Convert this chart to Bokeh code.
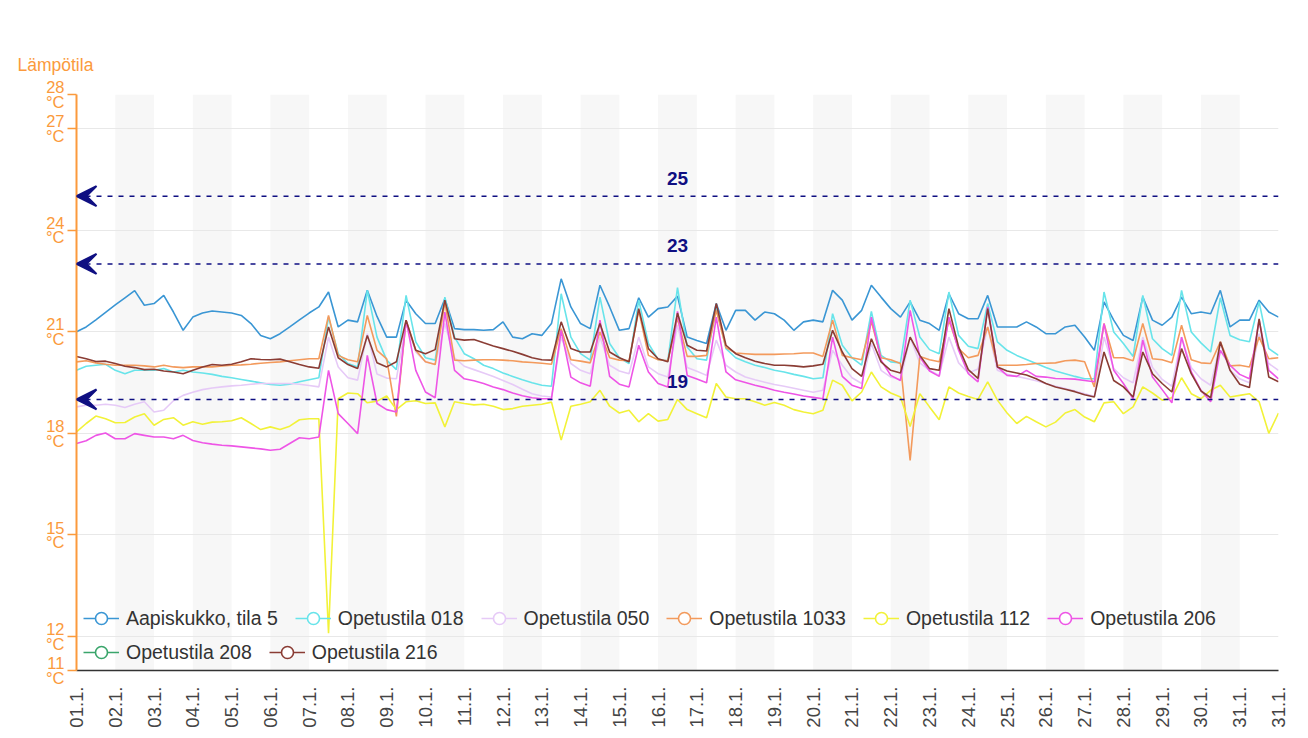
import numpy as np
from bokeh.plotting import figure
from bokeh.models import (Range1d, FixedTicker, Legend, LegendItem, Label, Arrow, VeeHead,
                          ColumnDataSource, CDSView, IndexFilter)
from bokeh.embed import file_html
from bokeh.resources import INLINE

# ---------------- data ----------------
DAY_TICKS = list(range(32))
DAY_LABELS = ["%02d.1." % d for d in range(1, 32)] + ["31.1."]
Y_TICKS = [11, 12, 15, 18, 21, 24, 27, 28]
THRESHOLDS = [25, 23, 19]
STEP_HOURS = 6  # one reading every 6 hours, 01.1. 00:00 .. 01.2. 00:00

SERIES_NAMES = ["Aapiskukko, tila 5", "Opetustila 018", "Opetustila 050", "Opetustila 1033",
                "Opetustila 112", "Opetustila 206", "Opetustila 208", "Opetustila 216"]

AAPISKUKKO = [
    21.0, 21.14, 21.35, 21.57, 21.79, 22.0, 22.21, 21.78, 21.83, 22.07, 21.58, 21.04,
    21.43, 21.55, 21.61, 21.58, 21.55, 21.48, 21.24, 20.89, 20.79, 20.94, 21.14, 21.35,
    21.55, 21.73, 22.17, 21.14, 21.34, 21.29, 22.22, 21.45, 20.84, 20.84, 21.93, 21.53,
    21.24, 21.24, 21.97, 21.09, 21.06, 21.06, 21.04, 21.06, 21.29, 20.84, 20.79, 20.94,
    20.89, 21.24, 22.56, 21.73, 21.24, 21.09, 22.37, 21.73, 21.04, 21.09, 22.0, 21.43,
    21.68, 21.73, 22.05, 20.84, 20.74, 20.65, 21.83, 21.04, 21.63, 21.63, 21.34, 21.58,
    21.53, 21.34, 21.04, 21.29, 21.34, 21.29, 22.22, 21.93, 21.34, 21.63, 22.37, 22.02,
    21.68, 21.43, 21.88, 21.34, 21.24, 21.04, 22.12, 21.53, 21.38, 21.38, 22.07, 21.14,
    21.14, 21.14, 21.29, 21.14, 20.94, 20.94, 21.14, 21.19, 20.84, 20.45, 21.88, 21.34,
    20.89, 20.74, 22.02, 21.34, 21.19, 21.43, 22.02, 21.53, 21.58, 21.53, 22.22, 21.14,
    21.34, 21.34, 21.93, 21.58, 21.43]

OPETUSTILA_018 = [
    19.86, 19.98, 20.01, 20.04, 19.86, 19.76, 19.86, 19.86, 19.86, 19.91, 19.81, 19.86,
    19.81, 19.78, 19.74, 19.68, 19.64, 19.59, 19.54, 19.49, 19.44, 19.42, 19.45, 19.52,
    19.58, 19.64, 21.43, 20.35, 20.06, 19.96, 22.22, 20.84, 20.16, 19.88, 22.07, 20.7,
    20.23, 20.16, 22.02, 20.84, 20.35, 20.2, 20.01, 19.91, 19.78, 19.68, 19.58, 19.49,
    19.42, 19.39, 22.12, 20.84, 20.35, 20.16, 22.02, 20.65, 20.23, 20.06, 21.93, 20.65,
    20.18, 20.14, 22.3, 20.55, 20.2, 20.16, 21.73, 20.5, 20.23, 20.11, 20.01, 19.94,
    19.86, 19.81, 19.74, 19.68, 19.61, 19.64, 21.53, 20.6, 20.23, 20.01, 21.6, 20.3,
    20.11, 20.08, 21.93, 20.84, 20.47, 20.35, 22.17, 20.89, 20.57, 20.5, 21.83, 20.7,
    20.45, 20.3, 20.18, 20.06, 19.94, 19.84, 19.76, 19.68, 19.61, 19.61, 22.17, 20.99,
    20.65, 20.27, 22.07, 20.79, 20.5, 20.3, 22.22, 20.99, 20.67, 20.4, 22.0, 20.89,
    20.76, 20.7, 21.88, 20.5, 20.3]

OPETUSTILA_050 = [
    18.78, 18.83, 18.83, 18.86, 18.83, 18.76, 18.86, 18.93, 18.63, 18.68, 18.96, 19.12,
    19.21, 19.29, 19.34, 19.37, 19.4, 19.42, 19.45, 19.47, 19.47, 19.47, 19.47, 19.45,
    19.41, 19.37, 20.84, 19.96, 19.64, 19.57, 20.94, 19.75, 19.63, 19.61, 21.24, 20.4,
    20.11, 20.03, 21.24, 20.23, 19.98, 19.88, 19.78, 19.68, 19.56, 19.44, 19.3, 19.17,
    19.1, 19.07, 20.84, 20.06, 19.86, 19.76, 20.84, 20.01, 19.84, 19.76, 20.84, 19.96,
    19.76, 19.66, 21.2, 19.94, 19.83, 19.71, 20.75, 20.01, 19.81, 19.66, 19.58, 19.51,
    19.44, 19.39, 19.33, 19.27, 19.21, 19.27, 20.45, 20.01, 19.64, 19.47, 20.65, 19.86,
    19.66, 19.58, 20.84, 20.08, 19.86, 19.71, 20.84, 20.08, 19.78, 19.9, 21.14, 19.86,
    19.74, 19.68, 19.62, 19.55, 19.47, 19.39, 19.32, 19.25, 19.17, 19.09, 20.84, 19.91,
    19.64, 19.49, 20.84, 19.94, 19.59, 19.39, 20.84, 19.94, 19.61, 19.42, 20.65, 19.86,
    19.61, 19.49, 20.94, 20.06, 19.86]

OPETUSTILA_1033 = [
    20.11, 20.14, 20.08, 20.04, 20.01, 20.01, 20.01, 19.99, 19.96, 20.01, 19.96, 19.94,
    19.96, 19.96, 19.96, 19.99, 20.01, 20.02, 20.04, 20.07, 20.09, 20.11, 20.14, 20.17,
    20.2, 20.2, 21.48, 20.3, 20.17, 20.11, 21.48, 20.45, 20.2, 18.5, 21.34, 20.45,
    20.11, 20.03, 21.88, 20.16, 20.14, 20.16, 20.17, 20.17, 20.16, 20.14, 20.11, 20.09,
    20.07, 20.04, 21.09, 20.17, 20.13, 20.08, 20.99, 20.23, 20.16, 20.14, 21.63, 20.3,
    20.17, 20.14, 21.4, 20.27, 20.27, 20.3, 21.63, 20.53, 20.37, 20.35, 20.33, 20.33,
    20.33, 20.34, 20.35, 20.37, 20.37, 20.27, 21.34, 20.3, 20.23, 20.17, 21.3, 20.23,
    20.17, 20.06, 17.2, 20.27, 20.17, 20.11, 21.34, 20.5, 20.23, 20.3, 21.14, 20.01,
    20.01, 20.01, 20.03, 20.06, 20.07, 20.08, 20.14, 20.16, 20.11, 19.37, 21.24, 20.23,
    20.23, 20.14, 21.24, 20.2, 20.17, 20.08, 21.19, 20.17, 20.08, 20.06, 20.7, 19.99,
    20.01, 19.96, 20.84, 20.2, 20.23]

OPETUSTILA_112 = [
    18.04, 18.29, 18.51, 18.43, 18.31, 18.32, 18.48, 18.58, 18.24, 18.41, 18.46, 18.24,
    18.34, 18.27, 18.33, 18.34, 18.37, 18.46, 18.29, 18.11, 18.19, 18.11, 18.21, 18.4,
    18.43, 18.43, 12.1, 19.02, 19.19, 19.17, 18.9, 18.95, 19.1, 18.7, 18.93, 18.96,
    18.88, 18.9, 18.19, 18.93, 18.88, 18.84, 18.86, 18.8, 18.7, 18.73, 18.8, 18.83,
    18.86, 18.92, 17.8, 18.8, 18.86, 18.93, 19.27, 18.8, 18.6, 18.68, 18.34, 18.58,
    18.36, 18.41, 19.0, 18.7, 18.58, 18.46, 19.47, 19.07, 19.02, 19.02, 18.93, 18.83,
    18.91, 18.83, 18.7, 18.63, 18.58, 18.68, 19.57, 19.42, 18.96, 19.22, 19.81, 19.37,
    19.19, 19.07, 18.2, 19.17, 18.78, 18.4, 19.37, 19.19, 19.09, 19.0, 19.52, 18.98,
    18.6, 18.29, 18.5, 18.34, 18.19, 18.33, 18.6, 18.7, 18.48, 18.34, 18.9, 18.93,
    18.58, 18.78, 19.37, 19.19, 18.98, 19.05, 19.64, 19.17, 19.02, 19.27, 19.42, 19.07,
    19.12, 19.17, 18.93, 18.0, 18.6]

OPETUSTILA_206 = [
    17.7, 17.78, 17.94, 18.01, 17.84, 17.84, 17.99, 17.94, 17.89, 17.89, 17.84, 17.94,
    17.79, 17.72, 17.68, 17.65, 17.63, 17.6, 17.57, 17.54, 17.5, 17.53, 17.7, 17.87,
    17.84, 17.89, 19.86, 18.58, 18.29, 17.99, 20.3, 18.88, 18.7, 18.63, 21.34, 19.86,
    19.22, 19.05, 21.58, 19.86, 19.61, 19.55, 19.47, 19.37, 19.29, 19.19, 19.11, 19.05,
    19.02, 19.02, 21.04, 19.66, 19.49, 19.39, 21.34, 19.68, 19.45, 19.37, 20.6, 19.81,
    19.47, 19.37, 21.6, 19.71, 19.6, 19.49, 21.43, 19.81, 19.58, 19.5, 19.42, 19.35,
    19.27, 19.21, 19.16, 19.1, 19.06, 19.02, 20.84, 19.68, 19.42, 19.32, 21.43, 20.16,
    19.71, 19.56, 21.63, 20.25, 19.84, 19.68, 21.43, 20.45, 19.76, 19.52, 21.73, 19.96,
    19.71, 19.68, 19.86, 19.68, 19.66, 19.62, 19.61, 19.6, 19.56, 19.52, 21.24, 19.86,
    19.47, 19.02, 20.75, 19.66, 19.29, 18.9, 20.84, 19.81, 19.27, 18.93, 20.45, 20.01,
    19.74, 19.61, 21.34, 19.86, 19.61]

OPETUSTILA_208 = [float("nan")]  # no readings shown for this room

OPETUSTILA_216 = [
    20.27, 20.2, 20.12, 20.13, 20.06, 19.98, 19.94, 19.88, 19.89, 19.84, 19.81, 19.76,
    19.86, 19.96, 20.03, 20.01, 20.04, 20.11, 20.2, 20.18, 20.17, 20.19, 20.11, 20.03,
    19.96, 19.92, 21.14, 20.23, 20.03, 19.91, 20.89, 20.08, 19.96, 20.11, 21.34, 20.45,
    20.35, 20.47, 21.93, 20.79, 20.75, 20.77, 20.67, 20.58, 20.5, 20.42, 20.33, 20.23,
    20.17, 20.16, 21.29, 20.5, 20.4, 20.4, 21.24, 20.4, 20.23, 20.11, 21.68, 20.5,
    20.2, 20.11, 21.55, 20.6, 20.45, 20.43, 21.83, 20.6, 20.35, 20.23, 20.13, 20.06,
    20.01, 20.01, 19.99, 19.96, 19.99, 20.04, 21.04, 20.4, 19.91, 19.68, 20.79, 20.11,
    19.86, 19.78, 20.84, 20.3, 19.91, 19.86, 21.68, 20.55, 19.88, 19.62, 21.68, 19.96,
    19.84, 19.78, 19.72, 19.61, 19.47, 19.37, 19.3, 19.23, 19.14, 19.07, 20.4, 19.56,
    19.37, 19.07, 20.4, 19.76, 19.47, 19.22, 20.5, 19.76, 19.25, 19.05, 20.7, 19.86,
    19.45, 19.35, 21.38, 19.66, 19.52]

SERIES_VALUES = [AAPISKUKKO, OPETUSTILA_018, OPETUSTILA_050, OPETUSTILA_1033,
                 OPETUSTILA_112, OPETUSTILA_206, OPETUSTILA_208, OPETUSTILA_216]

# ---------------- style ----------------
COLORS = ["#3a96d4", "#68e4ea", "#e6caf7", "#f39a5c", "#f2f238", "#ee55e6", "#3aa56b", "#8a3c34"]
ORANGE = "#fb9a3c"
NAVY = "#0f0f82"
FONT = "Liberation Sans"

p = figure(width=1300, height=734, x_range=Range1d(0, 31), y_range=Range1d(11, 28),
           output_backend="svg", toolbar_location=None,
           min_border_left=76, min_border_right=22, min_border_top=94, min_border_bottom=64)
p.outline_line_color = None
p.background_fill_color = "white"
p.border_fill_color = "white"

# title of the value axis
p.title.text = "Lämpötila"
p.title.align = "left"
p.title.offset = -59
p.title.standoff = 39
p.title.text_color = ORANGE
p.title.text_font = FONT
p.title.text_font_size = "17.5px"
p.title.text_font_style = "normal"

# alternating day bands
band_left = DAY_TICKS[1:31:2]
p.quad(left=band_left, right=[b + 1 for b in band_left], bottom=11, top=28,
       fill_color="#f7f7f7", line_color=None, level="image")

# grid
p.xgrid.visible = False
p.ygrid.ticker = FixedTicker(ticks=Y_TICKS)
p.ygrid.grid_line_color = "#e8e8e8"
p.ygrid.grid_line_width = 1

# y axis
yax = p.yaxis[0]
yax.ticker = FixedTicker(ticks=Y_TICKS)
yax.axis_line_color = ORANGE
yax.axis_line_width = 2
yax.major_tick_line_color = ORANGE
yax.major_tick_line_width = 1.5
yax.major_tick_out = 9
yax.major_tick_in = 0
yax.minor_tick_line_color = None
yax.major_label_overrides = {t: "%d\n°C" % t for t in Y_TICKS}
yax.major_label_text_color = ORANGE
yax.major_label_text_font = FONT
yax.major_label_text_font_size = "16.5px"
yax.major_label_text_line_height = 0.82
yax.major_label_standoff = 3

# x axis
xax = p.xaxis[0]
xax.ticker = FixedTicker(ticks=DAY_TICKS)
xax.major_label_overrides = {i: lab for i, lab in enumerate(DAY_LABELS)}
xax.major_label_orientation = np.pi / 2
xax.axis_line_color = "#333333"
xax.axis_line_width = 1.5
xax.major_tick_line_color = None
xax.minor_tick_line_color = None
xax.major_label_text_font = FONT
xax.major_label_text_font_size = "18.5px"
xax.major_label_text_color = "#444444"
xax.major_label_standoff = 10

# series
t_days = [i * STEP_HOURS / 24 for i in range(len(AAPISKUKKO))]
items = []
for name, vals, col in zip(SERIES_NAMES, SERIES_VALUES, COLORS):
    src = ColumnDataSource(dict(x=t_days[:len(vals)], y=vals))
    lr = p.line("x", "y", source=src, line_color=col, line_width=1.6)
    # legend marker only: a zero-size circle on one reading (nothing is drawn on the plot)
    cr = p.scatter("x", "y", source=src, view=CDSView(filter=IndexFilter(indices=[0])),
                   marker="circle", size=0, fill_color="white",
                   line_color=col, line_width=1.6)
    items.append(LegendItem(label=name, renderers=[lr, cr]))

# thresholds
for th in THRESHOLDS:
    p.add_layout(Arrow(x_start=31, y_start=th, x_end=0, y_end=th,
                       line_color=NAVY, line_width=1.5, line_dash="5 6",
                       end=VeeHead(size=20, fill_color=NAVY, line_color=NAVY, line_width=2)))
    p.add_layout(Label(x=15.5, y=th + 0.53, text=str(th), text_align="center",
                       text_baseline="middle", text_color=NAVY, text_font=FONT,
                       text_font_style="bold", text_font_size="19px"))


def make_legend(its, loc):
    lg = Legend(items=its, orientation="horizontal", location=loc,
                glyph_width=36, glyph_height=30, label_height=30, label_standoff=7,
                spacing=17, padding=0, margin=0, border_line_color=None,
                background_fill_alpha=0, label_text_font=FONT,
                label_text_font_size="19.5px", label_text_color="#333333")
    return lg


p.add_layout(make_legend(items[:6], (7, 37)), "center")
p.add_layout(make_legend(items[6:], (7, 3)), "center")

open("out.html", "w").write(file_html(p, INLINE))
